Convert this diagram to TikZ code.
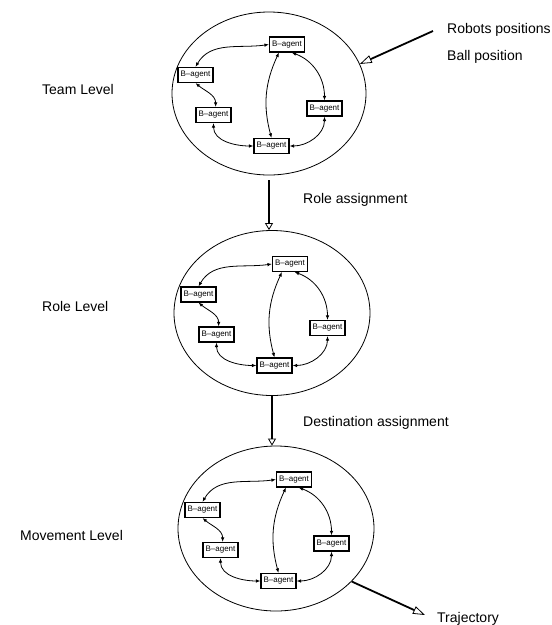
\documentclass[tikz,border=0pt]{standalone}
\usepackage{fontspec}
\setmainfont{Liberation Sans}
\usetikzlibrary{shapes.geometric,arrows.meta}

\tikzset{
  agent/.style={draw, line width=1.1pt, rectangle, minimum width=35pt, minimum height=15pt,
    inner sep=1pt, font=\fontsize{8}{9.6}\selectfont},
  link/.style={line width=0.8pt, {Latex[length=4.5pt,width=3.5pt]}-{Latex[length=4.5pt,width=3.5pt]}},
  ring/.style={draw, line width=0.8pt, ellipse, inner sep=0pt, minimum width=196pt, minimum height=165pt},
  flow/.style={line width=1.8pt, -{Triangle[open, length=7pt, width=8pt, line width=0.8pt]}},
  inflow/.style={line width=1.8pt, -{Triangle[open, length=12pt, width=8pt, line width=0.8pt]}},
  label/.style={anchor=base west, inner sep=0pt, font=\fontsize{14}{16}\selectfont},
  agentring/.pic={
    \node[agent] (-top)    at (18,49)     {B--agent};
    \node[agent] (-left)   at (-73.5,18.5) {B--agent};
    \node[agent] (-ll)     at (-55.5,-21.5) {B--agent};
    \node[agent] (-right)  at (55.5,-15)  {B--agent};
    \node[agent] (-bottom) at (2.5,-52.5) {B--agent};
    \draw[link] (-top.west) to[out=188, in=60] (-left.north);
    \draw[link] (-top.225) to[bend right=20] (-bottom.north);
    \draw[link] (-top.-60) to[out=-20, in=90] (-right.north);
    \draw[link] (-left.south) to[out=-40, in=90] (-ll.75);
    \draw[link] (-ll.south) to[out=-90, in=180] (-bottom.west);
    \draw[link] (-bottom.east) to[out=0, in=-90] (-right.south);
  }
}

\begin{document}
\begin{tikzpicture}[x=1pt, y=1pt]
  \useasboundingbox (0,0) rectangle (552,-625);

  % the three levels
  \node[ring, minimum width=194pt, minimum height=163pt] (E1) at (269,-93.5) {};
  \pic (T) at (269,-93.5) {agentring};
  \node[ring] (E2) at (272,-313) {};
  \pic (R) at (272,-313) {agentring};
  \node[ring] (E3) at (276,-528.5) {};
  \pic (M) at (276,-528.5) {agentring};

  % level names
  \node[label] (tl) at (42,-94) {Team Level};
  \node[label] (rl) at (42,-311) {Role Level};
  \node[label] (ml) at (20,-540) {Movement Level};

  % inputs
  \node[label] (rp) at (447,-33) {Robots positions};
  \node[label] (bp) at (447,-60) {Ball position};
  \coordinate (src) at (433,-31);
  \draw[inflow] (src) -- (E1.18);

  % hand-over between levels
  \draw[flow] ([yshift=-5pt]E1.south) -- (E1.south |- E2.north);
  \node[label] (ra) at (303,-203) {Role assignment};
  \draw[flow] (E2.south) -- (E2.south |- E3.north);
  \node[label] (da) at (303,-426) {Destination assignment};

  % output
  \coordinate (dst) at (425,-615);
  \draw[inflow] (E3.-35) -- (dst);
  \node[label] (tr) at (437,-622) {Trajectory};
\end{tikzpicture}
\end{document}
